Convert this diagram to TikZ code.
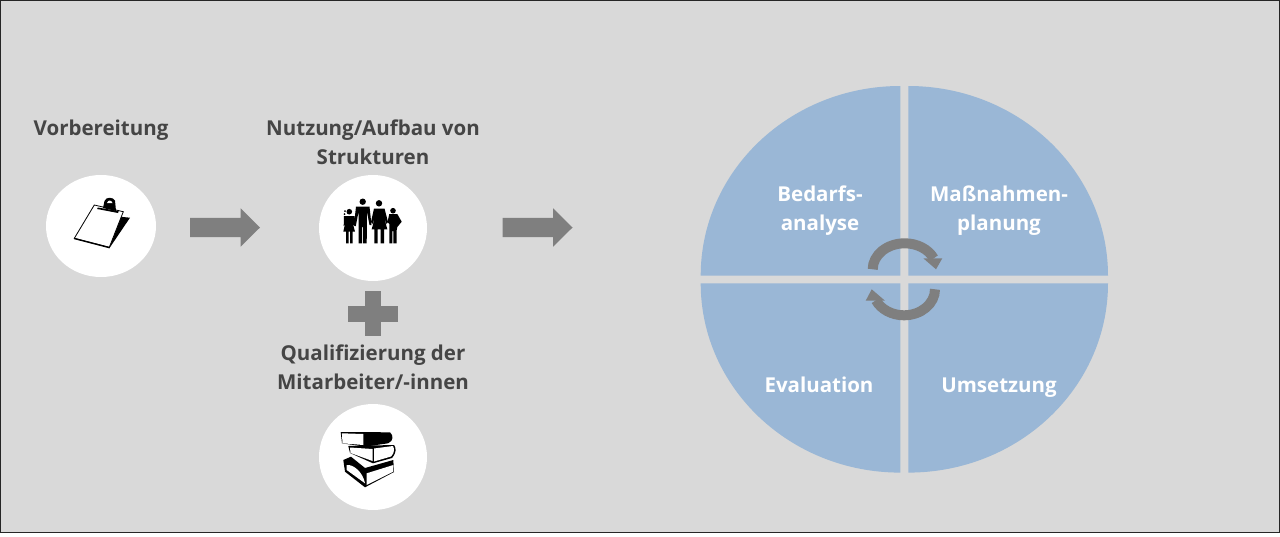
\documentclass[tikz,border=0pt]{standalone}
\usepackage{fontspec}
\usetikzlibrary{shapes.geometric}
\setmainfont{Open Sans}
\definecolor{panelgray}{HTML}{D9D9D9}
\definecolor{pieblue}{HTML}{9AB7D6}
\definecolor{arrowgray}{HTML}{7F7F7F}
\definecolor{labelgray}{HTML}{454545}
\tikzset{
	heading/.style={align=center,font=\bfseries\fontsize{20.5}{29}\selectfont,text=labelgray,inner sep=0},
	pielabel/.style={align=center,font=\bfseries\fontsize{20.5}{29}\selectfont,text=white,inner sep=0},
	disc/.style={ellipse,fill=white,minimum width=108,minimum height=106,inner sep=0},
	blockarrow/.pic={\fill [arrowgray] (-35,-9.7) -- (15.7,-9.7) -- (15.7,-19.2) -- (35,0) -- (15.7,19.2) -- (15.7,9.7) -- (-35,9.7) -- cycle;},
}
\begin{document}
\begin{tikzpicture}[x=1pt,y=-1pt]
	\useasboundingbox (0,0) rectangle (1280,536);
	\fill [panelgray] (0,0) rectangle (1280,533);
	\draw [black!85,line width=1.2] (0.6,0.6) rectangle (1279.4,532.5);
	% left column
	\node (prepare) [heading] at (101,130) {Vorbereitung};
	\node (prepdisc) [disc,minimum width=110,minimum height=102] at (101,226) {};
	\node (structures) [heading] at (373,142) {Nutzung/Aufbau von\\Strukturen};
	\node (structdisc) [disc] at (373,228) {};
	\node (training) [heading] at (373,367) {Qualifizierung der\\Mitarbeiter/-innen};
	\node (traindisc) [disc] at (373,457) {};
	\path (225,227.5) pic {blockarrow};
	\path (537.5,227.5) pic {blockarrow};
	\fill [arrowgray] (347.7,305.7) rectangle (398.3,321.7);
	\fill [arrowgray] (365.3,291) rectangle (380.7,336);
	% clipboard
	\fill [black] (120,216.7) -- (130,217.7) -- (109.3,248.3) -- (103,245) -- cycle;
	\draw [black,fill=white,line width=0.8] (94.3,205) -- (123.3,211.7) -- (109.3,247.3) -- (74.3,238.3) -- cycle;
	\draw [black,line width=1.4] (74.3,238.5) -- (109.3,247.6);
	\fill [black] (97.7,207.5) -- (118.7,211) -- (118,213) -- (97.2,209) -- cycle;
	\fill [black] (103,208) -- (104.5,201) .. controls (106,196.5) and (113,197) .. (115,200.5) -- (116,211) -- cycle;
	\fill [white] (107,203) .. controls (108,199.5) and (111.5,200) .. (112.5,203) -- cycle;
	% family
	\foreach \cx/\cy/\rad in {349.3/211.7/2.8, 362.7/201.7/3.2, 379/203.3/3.2, 393/210.7/2.8}
		\fill [black] (\cx,\cy) circle (\rad);
	\fill [black] (345,211) circle (1) (344.5,214) circle (1);
	\fill [black] (344,216) -- (354.5,216) -- (356,226) -- (354.5,226) -- (353,224) -- (355,231.7) -- (352.7,231.7) -- (352.7,243.3) -- (350,243.3) -- (350,231.7) -- (348.7,231.7) -- (348.7,243.3) -- (346,243.3) -- (346,231.7) -- (343.3,231.7) -- (345,224) -- (343.7,226) -- cycle;
	\fill [black] (356,206.5) -- (369.5,206.5) -- (371.5,225) -- (369.5,225) -- (367,212) -- (366.7,243.3) -- (363,243.3) -- (363,227) -- (362,227) -- (362,243.3) -- (358.7,243.3) -- (358.5,212) -- (356,225) -- (354,225) -- cycle;
	\fill [black] (374,208.5) -- (384.5,208.5) -- (388,222) -- (386.5,224) -- (383,213) -- (387.3,229.3) -- (384,229.3) -- (384,243.3) -- (380.7,243.3) -- (380.7,229.3) -- (377.7,229.3) -- (377.7,243.3) -- (374.3,243.3) -- (374.3,229.3) -- (371.7,229.3) -- (376,213) -- (372.5,224) -- (371,222) -- cycle;
	\fill [black] (389.3,214) -- (397.3,214) -- (401.7,221.7) -- (397.3,227) -- (396.7,230) -- (396.7,243.3) -- (393.3,243.3) -- (393.3,231) -- (392.3,231) -- (392.3,243.3) -- (389.3,243.3) -- (389.3,224) -- (387.5,222) -- cycle;
	% books
	\fill [black] (340.7,432) -- (390,432.3) .. controls (393.3,435) and (394,441) .. (388,443.3) -- (365,446.7) -- (342,443.3) -- cycle;
	\fill [white] (341.9,433.3) -- (363.3,434) -- (363.3,445) -- (342.5,443.3) -- cycle;
	\fill [black] (348.3,446) -- (394,445) .. controls (396,448) and (397,452) .. (392,458) -- (373,463.3) -- (350,453) -- cycle;
	\fill [white] (350,447.5) -- (372.5,449) -- (372.5,461) -- (350.5,453) -- cycle;
	\fill [white] (374,448.5) -- (393,446) .. controls (394.5,449) and (394.5,453) .. (391,456.5) -- (374,461.5) -- cycle;
	\fill [black] (343.3,460) -- (351,456.7) -- (365,468) -- (393.3,460) -- (394,472) -- (365,487.3) -- (345,471.7) -- cycle;
	\fill [white] (346.7,465) .. controls (353,464) and (363,472) .. (365,483.3) -- (346.7,470) -- cycle;
	\fill [white] (366.7,473.3) -- (393.3,465) -- (393.3,471.7) -- (366.7,485) -- cycle;
	% quadrants
	\fill [pieblue] (900.3,275.7) -- (900.3,86) arc (270:180:199.6 and 189.7) -- cycle;
	\fill [pieblue] (908.3,275.7) -- (908.3,86) arc (270:360:199.7 and 189.7) -- cycle;
	\fill [pieblue] (900.3,283.3) -- (900.3,472.6) arc (90:180:199.6 and 189.3) -- cycle;
	\fill [pieblue] (908.3,283.3) -- (908.3,472.6) arc (90:0:199.7 and 189.3) -- cycle;
	\node (needs) [pielabel] at (820,210.5) {Bedarfs-\\analyse};
	\node (planning) [pielabel] at (999,210.5) {Maßnahmen-\\planung};
	\node (evaluation) [pielabel] at (819,385) {Evaluation};
	\node (rollout) [pielabel] at (999,388) {Umsetzung};
	% cycle arrows
	\draw [arrowgray,line width=10] (872.7,269.3) arc (180:335:32 and 26);
	\fill [arrowgray] (923.3,258.3) -- (942.3,258.3) -- (936,269.3) -- cycle;
	\draw [arrowgray,line width=10] (935,289.3) arc (0:155:31 and 26);
	\fill [arrowgray] (885,300.7) -- (865.7,300.7) -- (871.7,289.3) -- cycle;
\end{tikzpicture}
\end{document}
